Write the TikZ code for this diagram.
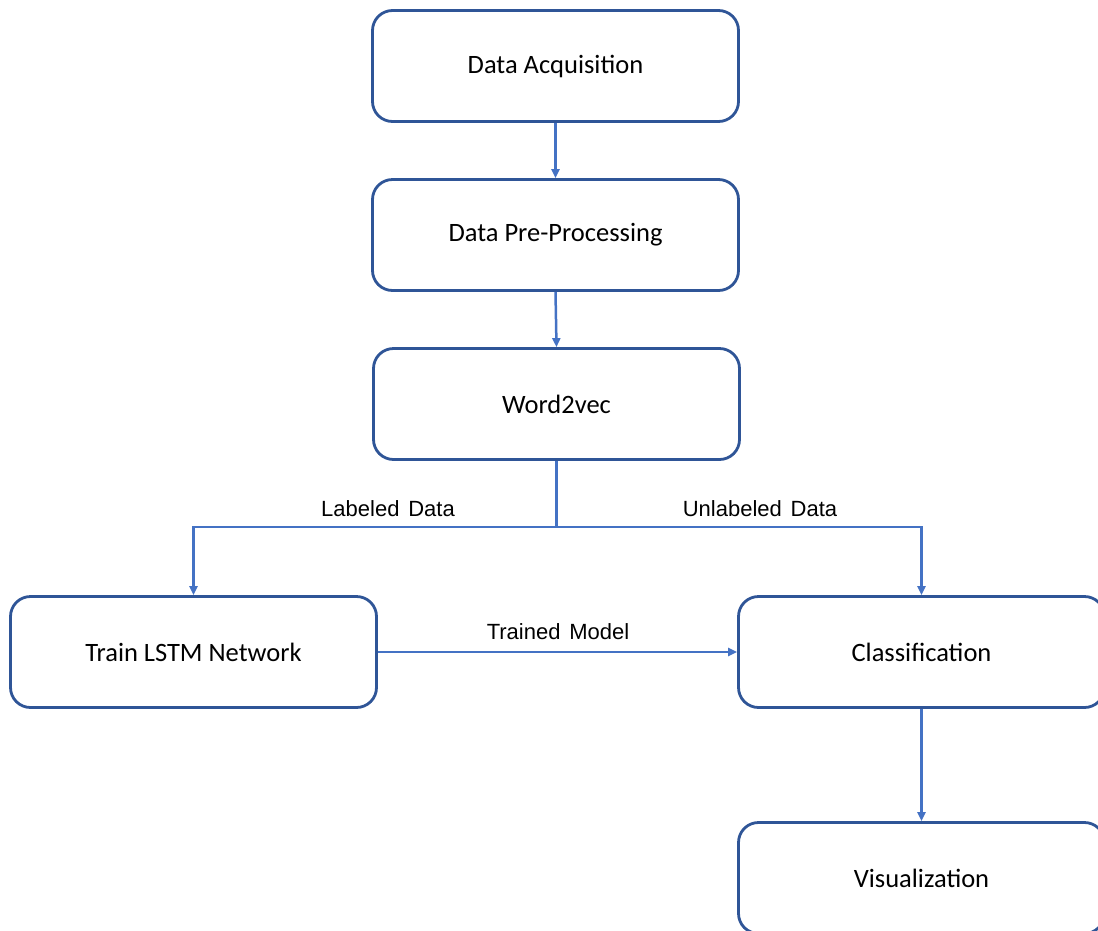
\documentclass[tikz,border=0pt]{standalone}
\usepackage{fontspec}
\setmainfont{Carlito}
\newfontfamily\lblfont{Liberation Sans}
\usetikzlibrary{arrows.meta}
\definecolor{boxblue}{HTML}{2F5597}
\definecolor{arrblue}{HTML}{4472C4}
\tikzset{
  procbox/.style={draw=boxblue, line width=2.8pt, rounded corners=20pt, fill=white,
    minimum width=366pt, minimum height=111pt, inner sep=0pt,
    font=\fontsize{26.5}{30}\selectfont, text=black},
  arr/.style={draw=arrblue, line width=2.5pt, -{Triangle[length=9pt,width=8pt]}},
  ln/.style={draw=arrblue, line width=2.5pt},
  lbl/.style={font=\lblfont\fontsize{22}{26}\selectfont, text=black, inner sep=0pt}
}
\begin{document}
\begin{tikzpicture}[x=1pt,y=-1pt]
\useasboundingbox (0,0) rectangle (1098,930);
\node[procbox] (acq) at (555.5,66) {Data Acquisition};
\node[procbox] (pre) at (555.5,235) {Data Pre-Processing};
\node[procbox] (w2v) at (556.5,404) {Word2vec};
\node[procbox] (lstm) at (193.5,652) {Train LSTM Network};
\node[procbox] (cls) at (921.5,652) {Classification};
\node[procbox] (vis) at (921.5,878) {Visualization};
\coordinate (split) at (556.5,527);
\draw[arr] (acq.south) -- (pre.north);
\draw[arr] (pre.south) -- (w2v.north);
\draw[ln] (w2v.south) -- (split);
\draw[arr] (split) -| (lstm.north);
\draw[arr] (split) -| (cls.north);
\draw[arr] (lstm.east) -- (cls.west);
\draw[arr] (cls.south) -- (vis.north);
\node[lbl] (l1) at (388,509) {Labeled\hspace{0.4em}Data};
\node[lbl] (l2) at (760,509) {Unlabeled\hspace{0.4em}Data};
\node[lbl] (l3) at (558,632) {Trained\hspace{0.4em}Model};
\end{tikzpicture}
\end{document}
